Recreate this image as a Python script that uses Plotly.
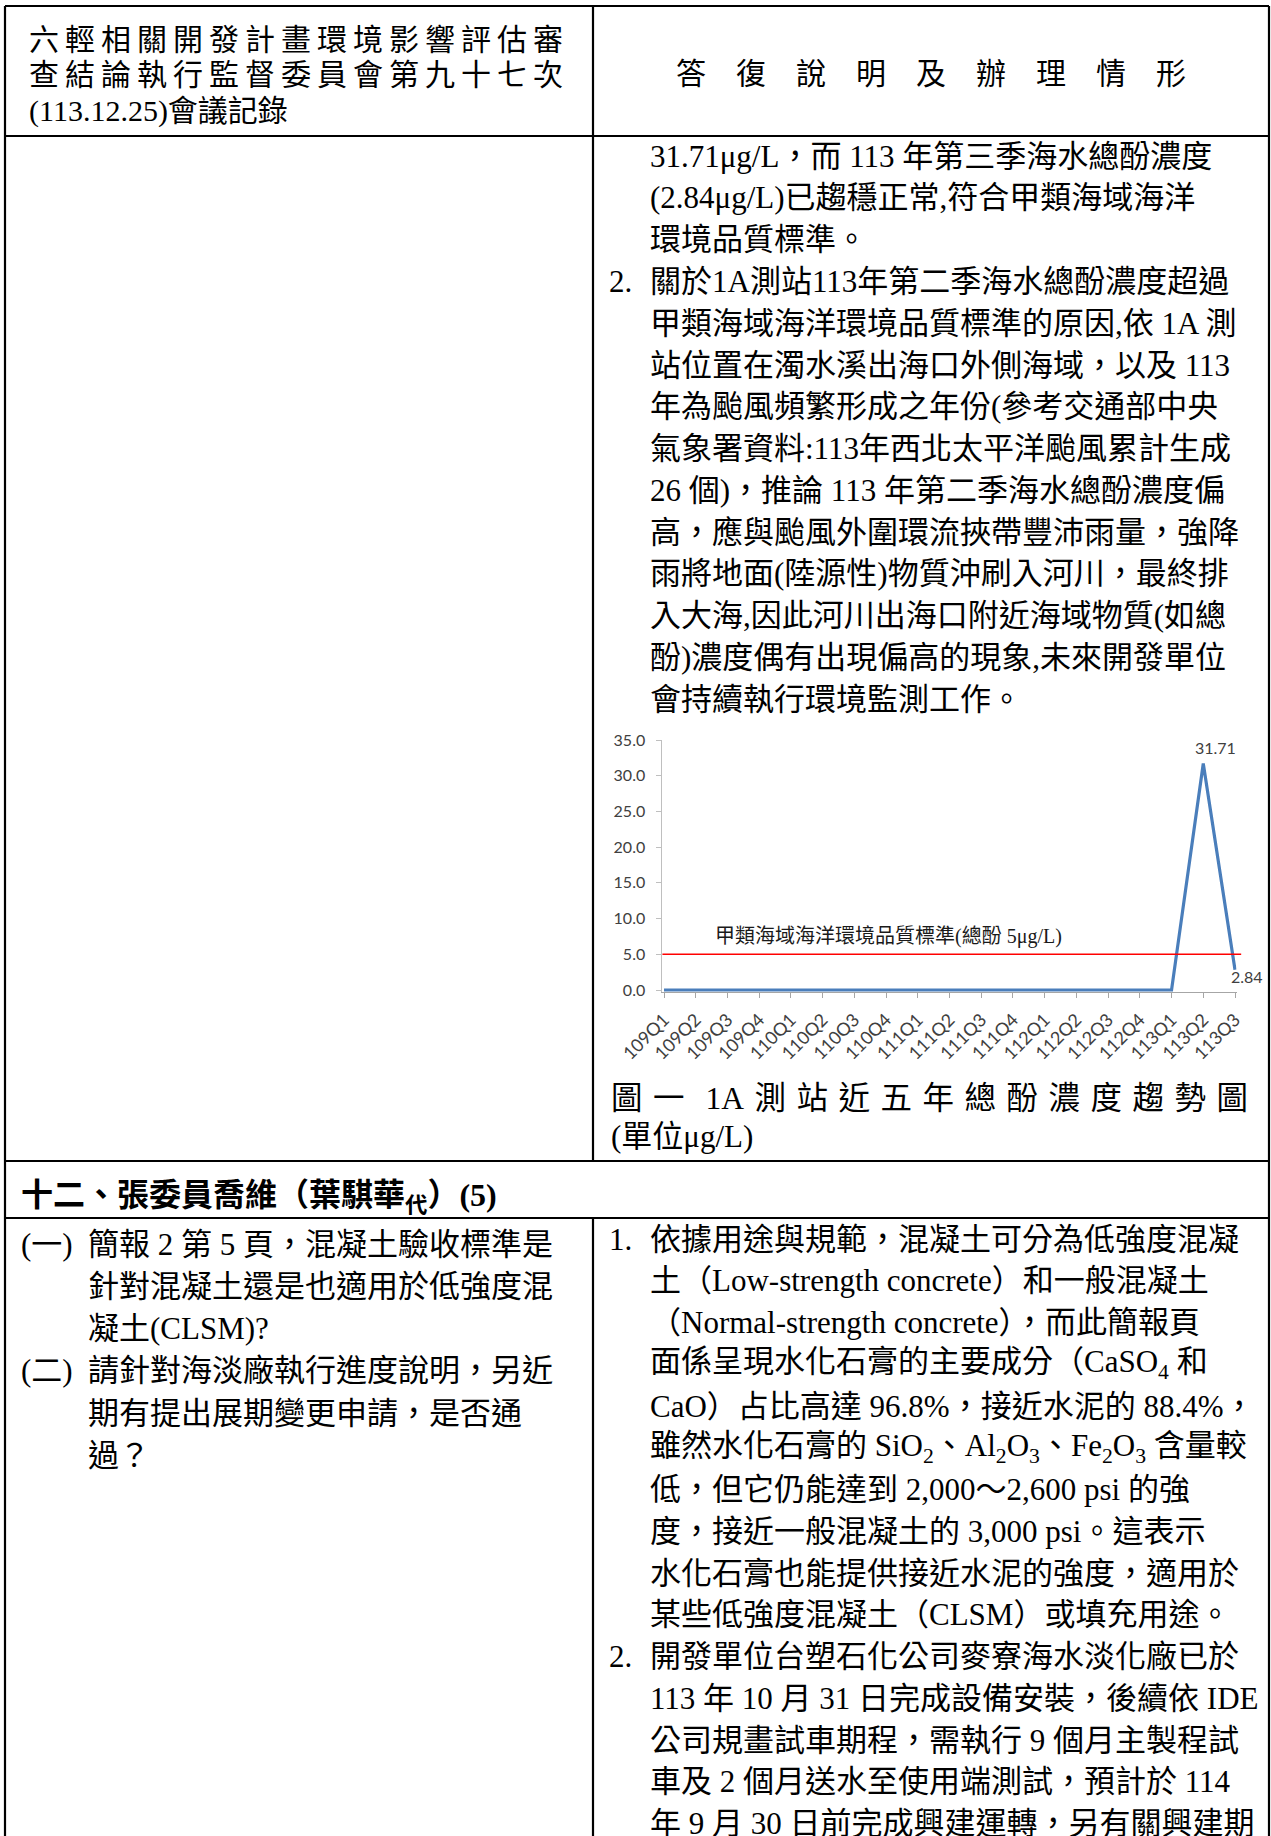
import plotly.graph_objects as go

W, H = 1271, 1836

# ---------------- chart data ----------------
quarters = ["109Q1", "109Q2", "109Q3", "109Q4", "110Q1", "110Q2", "110Q3", "110Q4",
            "111Q1", "111Q2", "111Q3", "111Q4", "112Q1", "112Q2", "112Q3", "112Q4",
            "113Q1", "113Q2", "113Q3"]
phenol = [0.0, 0.0, 0.0, 0.0, 0.0, 0.0, 0.0, 0.0,
          0.0, 0.0, 0.0, 0.0, 0.0, 0.0, 0.0, 0.0,
          0.0, 31.71, 2.84]
standard_value = 5.0
standard_label = "甲類海域海洋環境品質標準(總酚 5μg/L)"
y_ticks = [0, 5, 10, 15, 20, 25, 30, 35]

# ---------------- document text ----------------
header_left = ["六輕相關開發計畫環境影響評估審",
               "查結論執行監督委員會第九十七次",
               "(113.12.25)會議記錄"]
header_right = "答復說明及辦理情形"

right_upper = [
    ("", "31.71μg/L，而 113 年第三季海水總酚濃度"),
    ("", "(2.84μg/L)已趨穩正常,符合甲類海域海洋"),
    ("", "環境品質標準。"),
    ("2.", "關於1A測站113年第二季海水總酚濃度超過"),
    ("", "甲類海域海洋環境品質標準的原因,依 1A 測"),
    ("", "站位置在濁水溪出海口外側海域，以及 113"),
    ("", "年為颱風頻繁形成之年份(參考交通部中央"),
    ("", "氣象署資料:113年西北太平洋颱風累計生成"),
    ("", "26 個)，推論 113 年第二季海水總酚濃度偏"),
    ("", "高，應與颱風外圍環流挾帶豐沛雨量，強降"),
    ("", "雨將地面(陸源性)物質沖刷入河川，最終排"),
    ("", "入大海,因此河川出海口附近海域物質(如總"),
    ("", "酚)濃度偶有出現偏高的現象,未來開發單位"),
    ("", "會持續執行環境監測工作。"),
]
caption_chars = ["圖", "一", "", "1A", "測", "站", "近", "五", "年", "總", "酚", "濃", "度", "趨", "勢", "圖"]
caption_line2 = "(單位μg/L)"

section_title = "十二、張委員喬維（葉騏華<sub>代</sub>）(5)"

left_lower = [
    ("(一)", "簡報 2 第 5 頁，混凝土驗收標準是"),
    ("", "針對混凝土還是也適用於低強度混"),
    ("", "凝土(CLSM)?"),
    ("(二)", "請針對海淡廠執行進度說明，另近"),
    ("", "期有提出展期變更申請，是否通"),
    ("", "過？"),
]

right_lower = [
    ("1.", "依據用途與規範，混凝土可分為低強度混凝"),
    ("", "土（Low-strength concrete）和一般混凝土"),
    ("", "（Normal-strength concrete），而此簡報頁"),
    ("", "面係呈現水化石膏的主要成分（CaSO<sub>4</sub> 和"),
    ("", "CaO）占比高達 96.8%，接近水泥的 88.4%，"),
    ("", "雖然水化石膏的 SiO<sub>2</sub>、Al<sub>2</sub>O<sub>3</sub>、Fe<sub>2</sub>O<sub>3</sub> 含量較"),
    ("", "低，但它仍能達到 2,000～2,600 psi 的強"),
    ("", "度，接近一般混凝土的 3,000 psi。這表示"),
    ("", "水化石膏也能提供接近水泥的強度，適用於"),
    ("", "某些低強度混凝土（CLSM）或填充用途。"),
    ("2.", "開發單位台塑石化公司麥寮海水淡化廠已於"),
    ("", "113 年 10 月 31 日完成設備安裝，後續依 IDE"),
    ("", "公司規畫試車期程，需執行 9 個月主製程試"),
    ("", "車及 2 個月送水至使用端測試，預計於 114"),
    ("", "年 9 月 30 日前完成興建運轉，另有關興建期"),
]

BODY = "Liberation Serif, Noto Sans CJK TC, serif"
CHART = "Lato, Carlito, Liberation Sans, sans-serif"
FS = 31

fig = go.Figure()


def px(x):
    return x / W


def py(y):
    return 1 - y / H


def add_text(x, y, s, size=FS, anchor="left", bold=False, family=BODY):
    fig.add_annotation(x=px(x), y=py(y), xref="paper", yref="paper", text=s,
                       showarrow=False, xanchor=anchor, yanchor="middle",
                       font=dict(size=size, family=family, color="black",
                                 weight="bold" if bold else "normal"))


def hline(y, x0, x1, w=2.2):
    fig.add_shape(type="line", xref="paper", yref="paper", x0=px(x0), x1=px(x1),
                  y0=py(y), y1=py(y), line=dict(color="black", width=w))


def vline(x, y0, y1, w=2.2):
    fig.add_shape(type="line", xref="paper", yref="paper", x0=px(x), x1=px(x),
                  y0=py(y0), y1=py(y1), line=dict(color="black", width=w))


# ---------------- table grid ----------------
LEFT, RIGHT, MID = 5, 1269, 593
TOP, HEAD_B, SEP, SEC_B = 6, 136, 1161, 1218
hline(TOP, LEFT, RIGHT)
hline(HEAD_B, LEFT, RIGHT)
hline(SEP, LEFT, RIGHT)
hline(SEC_B, LEFT, RIGHT)
vline(LEFT, TOP, H + 2)
vline(RIGHT, TOP, H + 2)
vline(MID, TOP, SEP)
vline(MID, SEC_B, H + 2)

# ---------------- header ----------------
THIN = "\u2009"
for i, s in enumerate(header_left):
    add_text(27, 39 + i * 36, THIN.join(s) if i < 2 else s, size=30)
add_text(931, 73, "\u3000".join(header_right), size=30, anchor="center")

# ---------------- right column upper text ----------------
y0, pitch = 156, 41.8
for i, (num, s) in enumerate(right_upper):
    if num:
        add_text(607, y0 + i * pitch, num)
    add_text(648, y0 + i * pitch, s)

# caption
cap = "\u2004".join(caption_chars)
add_text(609, 1098, cap, size=31.5)
add_text(609, 1136, caption_line2)

# section title
add_text(19, 1197, section_title, bold=True, size=32)

# left lower
y0, pitch = 1244, 42.3
for i, (num, s) in enumerate(left_lower):
    if num:
        add_text(19, y0 + i * pitch, num)
    add_text(86, y0 + i * pitch, s)

# right lower
y0, pitch = 1239, 41.75
for i, (num, s) in enumerate(right_lower):
    if num:
        add_text(607, y0 + i * pitch, num)
    add_text(648, y0 + i * pitch, s)

# ---------------- chart ----------------
fig.add_trace(go.Scatter(x=quarters, y=phenol, mode="lines",
                         line=dict(color="#4a7ebb", width=3.2),
                         hoverinfo="skip", showlegend=False))

fig.add_shape(type="line", xref="x domain", yref="y", x0=0, x1=1.008,
              y0=standard_value, y1=standard_value,
              line=dict(color="#ff0000", width=1.5))
fig.add_annotation(x=1.55, y=standard_value, xref="x", yref="y", text=standard_label,
                   showarrow=False, xanchor="left", yanchor="bottom", yshift=4,
                   font=dict(size=20, family=BODY, color="#1a1a1a"))

peak_i = phenol.index(max(phenol))
fig.add_annotation(x=quarters[peak_i], y=phenol[peak_i], xref="x", yref="y",
                   text=f"{phenol[peak_i]:.2f}", showarrow=False,
                   xanchor="center", yanchor="middle", xshift=12, yshift=16,
                   font=dict(size=16, family=CHART, color="#404040"))
fig.add_annotation(x=quarters[-1], y=phenol[-1], xref="x", yref="y",
                   text=f"{phenol[-1]:.2f}", showarrow=False,
                   xanchor="left", yanchor="middle", xshift=-6, yshift=-7,
                   font=dict(size=16, family=CHART, color="#404040"))

unit = (1235 - 664) / 18
xl0 = 664 - 0.05 * unit
xl1 = 1235 + 0.05 * unit
yunit = 250 / 35
yb = 990 + 0.3 * yunit

fig.update_layout(
    width=W, height=H,
    margin=dict(l=0, r=0, t=0, b=0, pad=0, autoexpand=False),
    paper_bgcolor="white", plot_bgcolor="white",
    font=dict(family=BODY, color="black"),
    showlegend=False,
    hovermode=False,
    xaxis=dict(domain=[px(xl0), px(xl1)], type="category", automargin=False,
               categoryorder="array", categoryarray=quarters,
               range=[-0.05, 18.05], showgrid=False, zeroline=False,
               showline=True, linecolor="#a6a6a6", linewidth=1,
               ticks="outside", ticklen=5, tickcolor="#a6a6a6",
               tickangle=-45, ticklabelstandoff=4,
               tickfont=dict(family=CHART, size=18, color="#404040"),
               fixedrange=True),
    yaxis=dict(domain=[py(yb), py(740)], range=[-0.3, 35], automargin=False,
               tickmode="array", tickvals=y_ticks, tickformat=".1f",
               showgrid=False, zeroline=False,
               showline=True, linecolor="#bfbfbf", linewidth=1,
               ticks="outside", ticklen=5, tickcolor="#bfbfbf",
               ticklabelstandoff=8,
               tickfont=dict(family=CHART, size=16, color="#404040"),
               fixedrange=True),
)

fig.write_html("out.html", config={"displayModeBar": False},
               post_script="document.body.style.margin='0';document.body.style.overflow='hidden';")
